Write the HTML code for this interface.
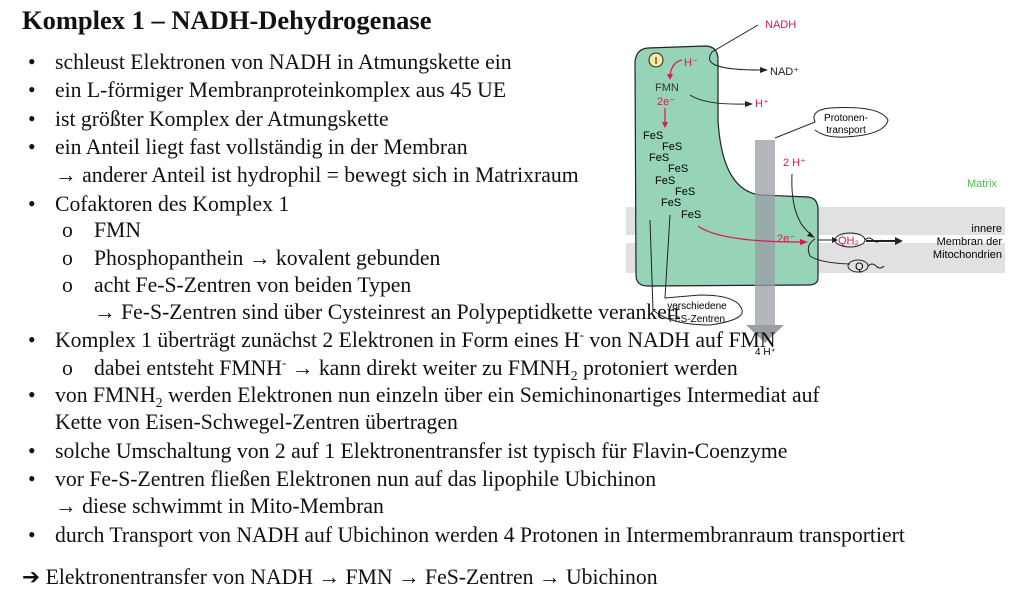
<!DOCTYPE html>
<html><head><meta charset="utf-8"><style>
body{margin:0;width:1024px;height:600px;background:#fff;position:relative;overflow:hidden;font-family:"Liberation Serif",serif;color:#111}
.l{position:absolute;font-size:21.7px;line-height:24px;white-space:nowrap}
.t{position:absolute;left:22px;top:5px;font-weight:bold;font-size:26.5px;font-family:"Liberation Serif",serif}
svg{position:absolute;left:0;top:0}
.s{font-family:"Liberation Sans",sans-serif}
.up{position:relative;top:-8px;font-size:13px}
.dn{position:relative;top:5px;font-size:14px}
</style></head><body>
<svg width="1024" height="600">
<rect x="626" y="207" width="379" height="28" fill="#e1e1e3"/>
<rect x="626" y="243" width="379" height="30" fill="#e1e1e3"/>
<path d="M648,48 L705,46 Q718,46 718,60 L718,120 Q722,190 760,195 L808,197 Q818,198 818,210 L818,278 Q818,285 808,285 L648,286 Q636,286 636,275 L635,62 Q636,49 648,48 Z" fill="#96d3b7" stroke="#222" stroke-width="1.2"/>
<rect x="755" y="140" width="20" height="185" fill="#9a9ea3" opacity="0.75"/>
<polygon points="746,325 784,325 765,343" fill="#9a9ea3"/>
<circle cx="656" cy="60" r="7" fill="#f5eaa0" stroke="#222"/>
<text x="656" y="64" font-size="10" text-anchor="middle" class="s">I</text>
<g class="s" font-size="11">
<text x="765" y="28" fill="#e0145a">NADH</text>
<text x="770" y="75" fill="#222">NAD⁺</text>
<text x="755" y="107" fill="#e0145a">H⁺</text>
<text x="684" y="66" fill="#e0145a">H⁻</text>
<text x="655" y="91" fill="#333">FMN</text>
<text x="657" y="105" fill="#e0145a">2e⁻</text>
<text x="643" y="139">FeS</text><text x="662" y="150">FeS</text>
<text x="649" y="161">FeS</text><text x="668" y="172">FeS</text>
<text x="655" y="184">FeS</text><text x="675" y="195">FeS</text>
<text x="661" y="206">FeS</text><text x="681" y="218">FeS</text>
<text x="783" y="166" fill="#e0145a">2 H⁺</text>
<text x="967" y="187" fill="#4cbb4c">Matrix</text>
<text x="1002" y="232" text-anchor="end">innere</text>
<text x="1002" y="245" text-anchor="end">Membran der</text>
<text x="1002" y="258" text-anchor="end">Mitochondrien</text>
<text x="777" y="242" fill="#e0145a">2e⁻</text>
<text x="838" y="244" fill="#e0145a">QH₂</text>
<text x="855" y="270">Q</text>
<text x="846" y="121" font-size="10" text-anchor="middle">Protonen-</text>
<text x="846" y="133" font-size="10" text-anchor="middle">transport</text>
<text x="697" y="309" font-size="10" text-anchor="middle">verschiedene</text>
<text x="697" y="322" font-size="10" text-anchor="middle">FeS-Zentren</text>
<text x="755" y="355" font-size="10">4 H⁺</text>
</g>
<g fill="none" stroke="#222" stroke-width="1">
<path d="M758,25 L712,52 Q705,62 718,66 Q730,70 760,70"/>
<path d="M690,95 Q705,105 745,104"/>
<path d="M792,174 Q790,220 812,235"/>
<path d="M815,239 Q805,245 810,256 Q820,263 850,264"/>
<path d="M818,240 L832,240"/>
<path d="M866,241 L895,241" stroke-width="2"/>
<path d="M775,138 L815,122 Q810,110 830,108 Q880,105 888,120 Q885,135 845,137 Q825,138 815,130"/>
<path d="M650,220 L653,310 Q670,325 710,325 Q745,320 742,310 Q738,295 700,295 L665,298 L670,215"/>
<ellipse cx="850" cy="240" rx="15" ry="7"/>
<ellipse cx="858" cy="266" rx="10" ry="6"/>
<path d="M865,240 q4,-4 8,0 q4,4 8,0"/><path d="M868,266 q4,-4 8,0 q4,4 8,0"/>
</g>
<g fill="none" stroke="#e0145a" stroke-width="1.2">
<path d="M682,60 Q672,62 670,75"/>
<path d="M665,108 L665,122"/>
<path d="M698,226 Q720,242 800,242"/>
</g>
<g fill="#222"><polygon points="760,67 768,70 760,73"/><polygon points="745,101 753,104 745,107"/><polygon points="810,232 815,238 807,236"/><polygon points="832,237 838,240 832,243"/><polygon points="895,237 903,241 895,245"/></g>
<g fill="#e0145a"><polygon points="667,74 670,80 673,74"/><polygon points="662,122 665,128 668,122"/><polygon points="800,239 808,242 800,245"/></g>
</svg>
<div class="t">Komplex 1 – NADH-Dehydrogenase</div>
<div class="l" style="left:28px;top:50px">•</div><div class="l" style="left:55px;top:50px">schleust Elektronen von NADH in Atmungskette ein</div>
<div class="l" style="left:28px;top:78px">•</div><div class="l" style="left:55px;top:78px">ein L-förmiger Membranproteinkomplex aus 45 UE</div>
<div class="l" style="left:28px;top:107px">•</div><div class="l" style="left:55px;top:107px">ist größter Komplex der Atmungskette</div>
<div class="l" style="left:28px;top:135px">•</div><div class="l" style="left:55px;top:135px">ein Anteil liegt fast vollständig in der Membran</div>
<div class="l" style="left:55px;top:163px">→ anderer Anteil ist hydrophil = bewegt sich in Matrixraum</div>
<div class="l" style="left:28px;top:192px">•</div><div class="l" style="left:55px;top:192px">Cofaktoren des Komplex 1</div>
<div class="l" style="left:62px;top:218px">o</div><div class="l" style="left:94px;top:218px">FMN</div>
<div class="l" style="left:62px;top:246px">o</div><div class="l" style="left:94px;top:246px">Phosphopanthein → kovalent gebunden</div>
<div class="l" style="left:62px;top:273px">o</div><div class="l" style="left:94px;top:273px">acht Fe-S-Zentren von beiden Typen</div>
<div class="l" style="left:94px;top:300px">→ Fe-S-Zentren sind über Cysteinrest an Polypeptidkette verankert</div>
<div class="l" style="left:28px;top:328px">•</div><div class="l" style="left:55px;top:328px">Komplex 1 überträgt zunächst 2 Elektronen in Form eines H<span class="up">-</span> von NADH auf FMN</div>
<div class="l" style="left:62px;top:356px">o</div><div class="l" style="left:94px;top:356px">dabei entsteht FMNH<span class="up">-</span> → kann direkt weiter zu FMNH<span class="dn">2</span> protoniert werden</div>
<div class="l" style="left:28px;top:383px">•</div><div class="l" style="left:55px;top:383px">von FMNH<span class="dn">2</span> werden Elektronen nun einzeln über ein Semichinonartiges Intermediat auf</div>
<div class="l" style="left:55px;top:410px">Kette von Eisen-Schwegel-Zentren übertragen</div>
<div class="l" style="left:28px;top:439px">•</div><div class="l" style="left:55px;top:439px">solche Umschaltung von 2 auf 1 Elektronentransfer ist typisch für Flavin-Coenzyme</div>
<div class="l" style="left:28px;top:467px">•</div><div class="l" style="left:55px;top:467px">vor Fe-S-Zentren fließen Elektronen nun auf das lipophile Ubichinon</div>
<div class="l" style="left:55px;top:494px">→ diese schwimmt in Mito-Membran</div>
<div class="l" style="left:28px;top:523px">•</div><div class="l" style="left:55px;top:523px">durch Transport von NADH auf Ubichinon werden 4 Protonen in Intermembranraum transportiert</div>
<div class="l" style="left:22px;top:565px">➔ Elektronentransfer von NADH → FMN → FeS-Zentren → Ubichinon</div>
</body></html>
